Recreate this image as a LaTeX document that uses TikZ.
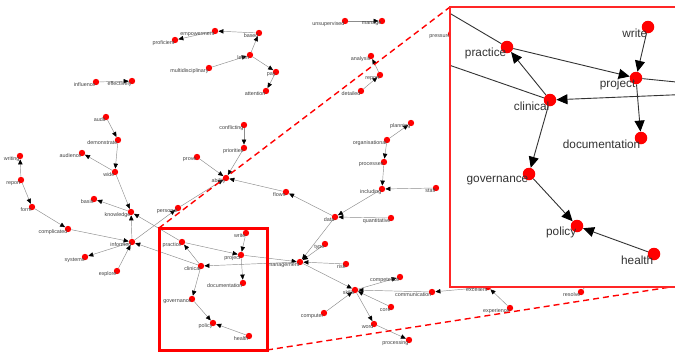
\documentclass[tikz,border=0pt]{standalone}
\usepackage{fontspec}
\setmainfont{Liberation Sans}
\usepackage{tikz}
\usetikzlibrary{arrows.meta}
\tikzset{
dot/.style={circle, fill=red, inner sep=0pt, minimum size=6.4pt},
lbl/.style={anchor=east, inner sep=0.3pt, text=black!75, font=\fontsize{5.4}{6}\selectfont},
edge/.style={draw=black!45, line width=0.45pt, -{Triangle[length=5pt,width=4.4pt,color=black]}},
zdot/.style={circle, fill=red, inner sep=0pt, minimum size=12.5pt},
zlbl/.style={anchor=east, inner sep=0.5pt, text=black!80, font=\fontsize{11.8}{13}\selectfont},
zedge/.style={draw=black!80, line width=0.9pt, -{Triangle[length=11pt,width=10pt,color=black]}},
zoombox/.style={draw=red!85, line width=1.3pt},
markbox/.style={draw=red, line width=3pt},
zoomline/.style={draw=red, line width=1.4pt, dash pattern=on 6pt off 4pt}
}
\begin{document}
\begin{tikzpicture}[x=1pt, y=-1pt]
\useasboundingbox (0,0) rectangle (675,354);
\node[dot] (proficient) at (175,40) {};
\node[dot] (empowerment) at (215,31) {};
\node[dot] (based) at (259,33) {};
\node[dot] (learn) at (250,55) {};
\node[dot] (multidisciplinary) at (209,68) {};
\node[dot] (pay) at (276,72) {};
\node[dot] (attention) at (266,91) {};
\node[dot] (influence) at (96,82) {};
\node[dot] (effectively) at (132,81) {};
\node[dot] (unsupervised) at (345,21) {};
\node[dot] (manage) at (382,21) {};
\node[dot] (analysis) at (371,56) {};
\node[dot] (reportb) at (380,75) {};
\node[dot] (detailed) at (361,91) {};
\node[dot] (pressure) at (451,34) {};
\node[dot] (audit) at (106,117) {};
\node[dot] (demonstrate) at (118,140) {};
\node[dot] (audience) at (82,153) {};
\node[dot] (wide) at (115,172) {};
\node[dot] (writing) at (20,156) {};
\node[dot] (report) at (21,180) {};
\node[dot] (form) at (32,207) {};
\node[dot] (complicated) at (68,229) {};
\node[dot] (basis) at (94,199) {};
\node[dot] (knowledge) at (131,212) {};
\node[dot] (informed) at (132,242) {};
\node[dot] (personal) at (178,208) {};
\node[dot] (systems) at (85,257) {};
\node[dot] (explore) at (117,271) {};
\node[dot] (conflicting) at (244,125) {};
\node[dot] (priorities) at (244,148) {};
\node[dot] (prove) at (197,157) {};
\node[dot] (ability) at (226,178) {};
\node[dot] (flows) at (286,192) {};
\node[dot] (planning) at (411,123) {};
\node[dot] (organisational) at (387,140) {};
\node[dot] (processes) at (384,162) {};
\node[dot] (including) at (382,189) {};
\node[dot] (staff) at (436,188) {};
\node[dot] (data) at (335,217) {};
\node[dot] (quantitative) at (391,218) {};
\node[dot] (practice) at (182,242) {};
\node[dot] (write) at (246,233) {};
\node[dot] (project) at (241,255) {};
\node[dot] (documentation) at (243,283) {};
\node[dot] (clinical) at (201,266) {};
\node[dot] (governance) at (192,299) {};
\node[dot] (policy) at (213,323) {};
\node[dot] (health) at (249,336) {};
\node[dot] (management) at (300,262) {};
\node[dot] (type) at (325,244) {};
\node[dot] (risk) at (346,264) {};
\node[dot] (skills) at (355,290) {};
\node[dot] (competence) at (400,277) {};
\node[dot] (communication) at (432,292) {};
\node[dot] (core) at (391,307) {};
\node[dot] (computer) at (324,313) {};
\node[dot] (word) at (374,324) {};
\node[dot] (processing) at (409,340) {};
\node[dot] (excellent) at (488,287) {};
\node[dot] (experience) at (510,308) {};
\node[dot] (resolve) at (581,292) {};
\coordinate (resolve-end) at (600,268);
\draw[edge] (empowerment) -- (proficient);
\draw[edge] (based) -- (empowerment);
\draw[edge] (learn) -- (based);
\draw[edge] (multidisciplinary) -- (learn);
\draw[edge] (learn) -- (pay);
\draw[edge] (pay) -- (attention);
\draw[edge] (influence) -- (effectively);
\draw[edge] (unsupervised) -- (manage);
\draw[edge] (detailed) -- (reportb);
\draw[edge] (reportb) -- (analysis);
\draw[edge] (audit) -- (demonstrate);
\draw[edge] (demonstrate) -- (wide);
\draw[edge] (wide) -- (audience);
\draw[edge] (wide) -- (knowledge);
\draw[edge] (report) -- (writing);
\draw[edge] (report) -- (form);
\draw[edge] (form) -- (complicated);
\draw[edge] (complicated) -- (informed);
\draw[edge] (knowledge) -- (basis);
\draw[edge] (informed) -- (knowledge);
\draw[edge] (practice) -- (knowledge);
\draw[edge] (clinical) -- (informed);
\draw[edge] (informed) -- (systems);
\draw[edge] (explore) -- (informed);
\draw[edge] (informed) -- (personal);
\draw[edge] (personal) -- (ability);
\draw[edge] (prove) -- (ability);
\draw[edge] (conflicting) -- (priorities);
\draw[edge] (priorities) -- (ability);
\draw[edge] (flows) -- (ability);
\draw[edge] (data) -- (flows);
\draw[edge] (organisational) -- (planning);
\draw[edge] (organisational) -- (processes);
\draw[edge] (processes) -- (including);
\draw[edge] (staff) -- (including);
\draw[edge] (including) -- (data);
\draw[edge] (quantitative) -- (data);
\draw[edge] (data) -- (management);
\draw[edge] (type) -- (management);
\draw[edge] (risk) -- (management);
\draw[edge] (write) -- (project);
\draw[edge] (practice) -- (project);
\draw[edge] (project) -- (documentation);
\draw[edge] (project) -- (management);
\draw[edge] (management) -- (clinical);
\draw[edge] (clinical) -- (practice);
\draw[edge] (clinical) -- (governance);
\draw[edge] (governance) -- (policy);
\draw[edge] (health) -- (policy);
\draw[edge] (management) -- (skills);
\draw[edge] (skills) -- (competence);
\draw[edge] (communication) -- (skills);
\draw[edge] (core) -- (skills);
\draw[edge] (computer) -- (skills);
\draw[edge] (skills) -- (word);
\draw[edge] (word) -- (processing);
\draw[edge] (excellent) -- (communication);
\draw[edge] (experience) -- (excellent);
\draw[edge] (resolve) -- (resolve-end);
\node[lbl] (proficient-t) at (175,43) {proficient};
\node[lbl] (empowerment-t) at (215,34) {empowerment};
\node[lbl] (based-t) at (259,36) {based};
\node[lbl] (learn-t) at (250,58) {learn};
\node[lbl] (multidisciplinary-t) at (209,71) {multidisciplinary};
\node[lbl] (pay-t) at (276,75) {pay};
\node[lbl] (attention-t) at (266,94) {attention};
\node[lbl] (influence-t) at (96,85) {influence};
\node[lbl] (effectively-t) at (132,84) {effectively};
\node[lbl] (unsupervised-t) at (345,24) {unsupervised};
\node[lbl] (manage-t) at (382,24) {manage};
\node[lbl] (analysis-t) at (371,59) {analysis};
\node[lbl] (reportb-t) at (380,78) {report};
\node[lbl] (detailed-t) at (361,94) {detailed};
\node[lbl] (pressure-t) at (451,37) {pressure};
\node[lbl] (audit-t) at (106,120) {audit};
\node[lbl] (demonstrate-t) at (118,143) {demonstrate};
\node[lbl] (audience-t) at (82,156) {audience};
\node[lbl] (wide-t) at (115,175) {wide};
\node[lbl] (writing-t) at (20,159) {writing};
\node[lbl] (report-t) at (21,183) {report};
\node[lbl] (form-t) at (32,210) {form};
\node[lbl] (complicated-t) at (68,232) {complicated};
\node[lbl] (basis-t) at (94,202) {basis};
\node[lbl] (knowledge-t) at (131,215) {knowledge};
\node[lbl] (informed-t) at (132,245) {informed};
\node[lbl] (personal-t) at (178,211) {personal};
\node[lbl] (systems-t) at (85,260) {systems};
\node[lbl] (explore-t) at (117,274) {explore};
\node[lbl] (conflicting-t) at (244,128) {conflicting};
\node[lbl] (priorities-t) at (244,151) {priorities};
\node[lbl] (prove-t) at (197,160) {prove};
\node[lbl] (ability-t) at (226,181) {ability};
\node[lbl] (flows-t) at (286,195) {flows};
\node[lbl] (planning-t) at (411,126) {planning};
\node[lbl] (organisational-t) at (387,143) {organisational};
\node[lbl] (processes-t) at (384,165) {processes};
\node[lbl] (including-t) at (382,192) {including};
\node[lbl] (staff-t) at (436,191) {staff};
\node[lbl] (data-t) at (335,220) {data};
\node[lbl] (quantitative-t) at (391,221) {quantitative};
\node[lbl] (practice-t) at (182,245) {practice};
\node[lbl] (write-t) at (246,236) {write};
\node[lbl] (project-t) at (241,258) {project};
\node[lbl] (documentation-t) at (243,286) {documentation};
\node[lbl] (clinical-t) at (201,269) {clinical};
\node[lbl] (governance-t) at (192,302) {governance};
\node[lbl] (policy-t) at (213,326) {policy};
\node[lbl] (health-t) at (249,339) {health};
\node[lbl] (management-t) at (300,265) {management};
\node[lbl] (type-t) at (325,247) {type};
\node[lbl] (risk-t) at (346,267) {risk};
\node[lbl] (skills-t) at (355,293) {skills};
\node[lbl] (competence-t) at (400,280) {competence};
\node[lbl] (communication-t) at (432,295) {communication};
\node[lbl] (core-t) at (391,310) {core};
\node[lbl] (computer-t) at (324,316) {computer};
\node[lbl] (word-t) at (374,327) {word};
\node[lbl] (processing-t) at (409,343) {processing};
\node[lbl] (excellent-t) at (488,290) {excellent};
\node[lbl] (experience-t) at (510,311) {experience};
\node[lbl] (resolve-t) at (581,295) {resolve};
\draw[markbox] (159,228) rectangle (267,350);
\draw[zoomline] (159,228) -- (450,7);
\draw[zoomline] (267,350) -- (677,286);
\fill[white] (450,7) rectangle (677,287);
\begin{scope}
\clip (450,7) rectangle (677,287);
\node[zdot] (zpractice) at (507,47) {};
\node[zdot] (zwrite) at (648,27) {};
\node[zdot] (zproject) at (636,78) {};
\node[zdot] (zclinical) at (550,100) {};
\node[zdot] (zdocumentation) at (641,138) {};
\node[zdot] (zgovernance) at (529,174) {};
\node[zdot] (zpolicy) at (577,226) {};
\node[zdot] (zhealth) at (654,254) {};
\coordinate (zknowledge) at (395,-19);
\coordinate (zinformed) at (397,47);
\coordinate (zmanagement) at (767,91);
\draw[zedge] (zwrite) -- (zproject);
\draw[zedge] (zpractice) -- (zproject);
\draw[zedge] (zproject) -- (zdocumentation);
\draw[zedge] (zclinical) -- (zpractice);
\draw[zedge] (zclinical) -- (zgovernance);
\draw[zedge] (zgovernance) -- (zpolicy);
\draw[zedge] (zhealth) -- (zpolicy);
\draw[zedge] (zproject) -- (zmanagement);
\draw[zedge] (zmanagement) -- (zclinical);
\draw[zedge] (zpractice) -- (zknowledge);
\draw[zedge] (zclinical) -- (zinformed);
\node[zlbl] (zpractice-t) at (507,53.5) {practice};
\node[zlbl] (zwrite-t) at (648,33.5) {write};
\node[zlbl] (zproject-t) at (636,84.5) {project};
\node[zlbl] (zclinical-t) at (550,106.5) {clinical};
\node[zlbl] (zdocumentation-t) at (641,144.5) {documentation};
\node[zlbl] (zgovernance-t) at (529,180.5) {governance};
\node[zlbl] (zpolicy-t) at (577,232.5) {policy};
\node[zlbl] (zhealth-t) at (654,260.5) {health};
\end{scope}
\draw[zoombox] (450,7) rectangle (677,287);
\end{tikzpicture}
\end{document}
